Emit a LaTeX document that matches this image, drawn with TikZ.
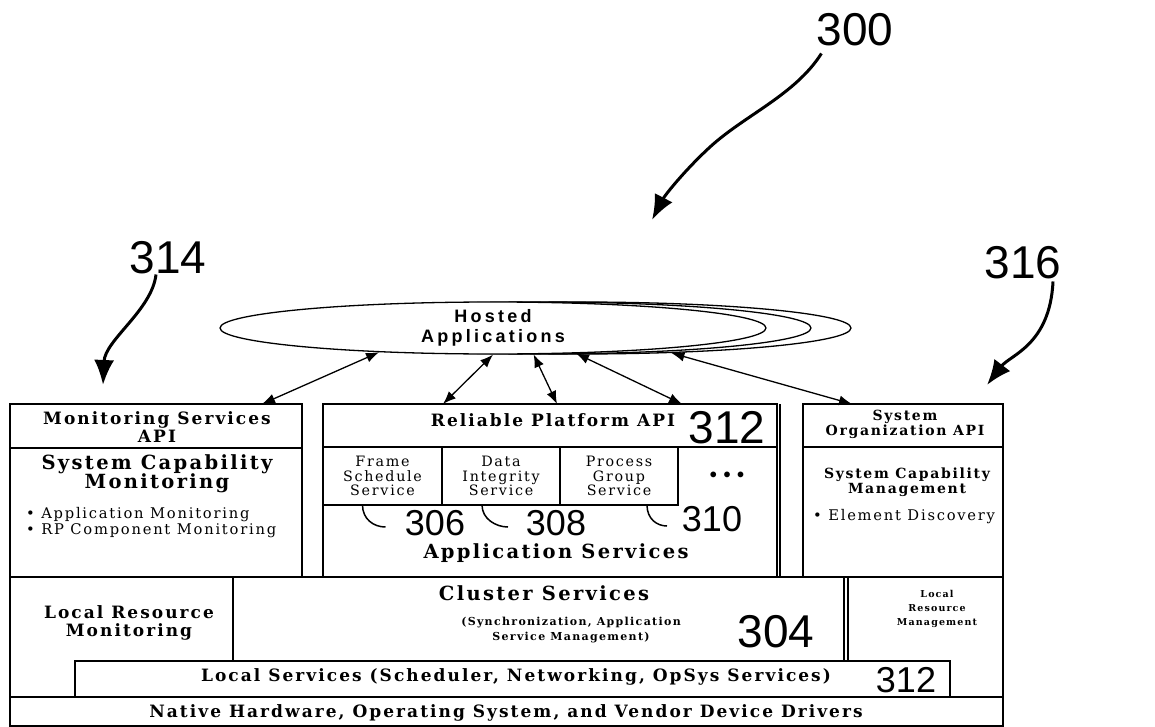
\documentclass[tikz,border=0pt]{standalone}
\usepackage{fontspec}
\setmainfont{DejaVu Serif}
\setsansfont{Liberation Sans}
\newfontfamily\wideserif[LetterSpace=12]{DejaVu Serif}
\newfontfamily\widesans[LetterSpace=18]{Liberation Sans}
\usetikzlibrary{arrows.meta,shapes.geometric}

\begin{document}
\begin{tikzpicture}[x=1pt,y=-1pt,
	box/.style={draw,line width=1.6pt,anchor=north west,inner sep=0pt,outer sep=0pt},
	apps/.style={ellipse,draw,fill=white,line width=1.3pt,minimum width=546pt,minimum height=52pt,inner sep=0pt},
	numlbl/.style={font=\sffamily\fontsize{46}{46}\selectfont,inner sep=0pt},
	smalllbl/.style={font=\sffamily\fontsize{36}{36}\selectfont,inner sep=0pt},
	hdr/.style={font=\wideserif\bfseries\fontsize{17}{17.5}\selectfont,align=center,inner sep=0pt},
	title/.style={font=\wideserif\bfseries\fontsize{19.5}{19.5}\selectfont,align=center,inner sep=0pt},
	minor/.style={font=\wideserif\bfseries\fontsize{14}{15}\selectfont,align=center,inner sep=0pt},
	plain/.style={font=\wideserif\fontsize{14.7}{16}\selectfont,align=left,inner sep=0pt,anchor=west},
	cell/.style={font=\wideserif\fontsize{14.3}{14.7}\selectfont,align=center,inner sep=0pt},
	link/.style={{Latex[length=13pt,width=10pt]}-{Latex[length=13pt,width=10pt]},line width=1.3pt},
	pointer/.style={-{Latex[length=25pt,width=20pt]},line width=3pt},
	hook/.style={line width=1.5pt}]
	\fill[white] (0,0) rectangle (1155,727);
	\useasboundingbox (0,0) rectangle (1155,727);

	\node[numlbl] (n300) at (855,30) {300};
	\node[numlbl] (n314) at (168,258) {314};
	\node[numlbl] (n316) at (1023,263) {316};

	\node[apps] (apps3) at (578,328) {};
	\node[apps] (apps2) at (538,328) {};
	\node[apps,font=\widesans\bfseries\fontsize{18}{19.5}\selectfont,align=center] (apps) at (493,328) {Hosted\\Applications};

	\node[box,minimum width=292pt,minimum height=44pt] (monapi) at (10,404) {};
	\node[box,minimum width=292pt,minimum height=129pt] (moncap) at (10,448) {};
	\node[box,minimum width=454pt,minimum height=43pt] (rpapi) at (323,404) {};
	\node[box,minimum width=454pt,minimum height=130pt] (appsvc) at (323,447) {};
	\node[box,minimum width=119pt,minimum height=58pt] (frame) at (323,447) {};
	\node[box,minimum width=118pt,minimum height=58pt] (integ) at (442,447) {};
	\node[box,minimum width=118pt,minimum height=58pt] (procgrp) at (560,447) {};
	\node[box,minimum width=200pt,minimum height=43pt] (orgapi) at (803,404) {};
	\node[box,minimum width=200pt,minimum height=130pt] (orgcap) at (803,447) {};
	\node[box,minimum width=611pt,minimum height=84pt] (cluster) at (233,577) {};
	\node[box,minimum width=875pt,minimum height=36pt] (locsvc) at (75,661) {};
	\node[box,minimum width=993pt,minimum height=29pt] (native) at (10,697) {};
	\draw[line width=1.6pt] (cluster.north west) -- (10,577) -- (native.north west);
	\draw[line width=1.6pt] (848,661) -- (848,577) -- (1003,577) -- (native.north east);
	\draw[line width=1.2pt] ([xshift=3pt]rpapi.north east) -- ([xshift=3pt]appsvc.south east);

	\draw[pointer] ([xshift=5pt,yshift=-7pt]n300.south west) .. controls (795,95) and (745,115) .. (710,147) .. controls (685,170) and (665,195) .. (652,220);
	\draw[pointer] ([xshift=-12pt]n314.south) .. controls (152,310) and (105,340) .. (103,385);
	\draw[pointer] ([xshift=30pt,yshift=-2pt]n316.south) .. controls (1050,345) and (1010,355) .. (987,385);

	\draw[link] (apps.192.7) -- ([xshift=-40pt]monapi.north east);
	\draw[link] (apps.south) -- ([xshift=120pt]rpapi.north west);
	\draw[link] (apps.327.3) -- ([xshift=234pt]rpapi.north west);
	\draw[link] (apps.343.8) -- ([xshift=359pt]rpapi.north west);
	\draw[link] (apps3.345.3) -- ([xshift=49pt]orgapi.north west);

	\node[hdr] (monapitxt) at (157,427) {Monitoring Services\\API};
	\node[title] (moncaptxt) at (157,474) {System Capability\\Monitoring};
	\node[plain] (monlist) at (26,523) {• Application Monitoring\\• RP Component Monitoring};

	\node[hdr] (rpapitxt) at (553,420) {Reliable Platform API};
	\node[numlbl] (n312a) at (727,428) {312};
	\node[cell] (frametxt) at (frame.center) {Frame\\Schedule\\Service};
	\node[cell] (integtxt) at (integ.center) {Data\\Integrity\\Service};
	\node[cell] (procgrptxt) at (procgrp.center) {Process\\Group\\Service};
	\node[font=\sffamily\bfseries\fontsize{20}{20}\selectfont,inner sep=0pt] (more) at (727,477) {•\,\,•\,\,•};
	\node[smalllbl] (n306) at (435,523) {306};
	\node[smalllbl] (n308) at (556,523) {308};
	\node[smalllbl] (n310) at (712,519) {310};
	\draw[hook] ([xshift=-20pt]frame.south) .. controls +(0,14) and +(-12,0) .. +(23,22);
	\draw[hook] ([xshift=-19pt]integ.south) .. controls +(0,14) and +(-12,0) .. +(26,22);
	\draw[hook] ([xshift=28pt]procgrp.south) .. controls +(0,14) and +(-10,0) .. +(20,21);
	\node[title] (appsvctxt) at (556,553) {Application Services};

	\node[minor] (orgapitxt) at (905,424) {System\\Organization API};
	\node[minor] (orgcaptxt) at (907,482) {System Capability\\Management};
	\node[plain] (orglist) at (813,517) {• Element Discovery};

	\node[hdr] (lrmontxt) at (129,623) {Local Resource\\Monitoring};
	\node[title] (clustertxt) at (544,593) {Cluster Services};
	\node[font=\wideserif\bfseries\fontsize{11}{15}\selectfont,align=center,inner sep=0pt] (clustersub) at (571,630) {(Synchronization, Application\\Service Management)};
	\node[numlbl] (n304) at (776,632) {304};
	\node[font=\wideserif\bfseries\fontsize{9.5}{14}\selectfont,align=center,inner sep=0pt] (lrmgmttxt) at (937,609) {Local\\Resource\\Management};
	\node[hdr] (locsvctxt) at (516,677) {Local Services (Scheduler, Networking, OpSys Services)};
	\node[smalllbl] (n312b) at (906,680) {312};
	\node[hdr] (nativetxt) at (506,713) {Native Hardware, Operating System, and Vendor Device Drivers};
\end{tikzpicture}
\end{document}
